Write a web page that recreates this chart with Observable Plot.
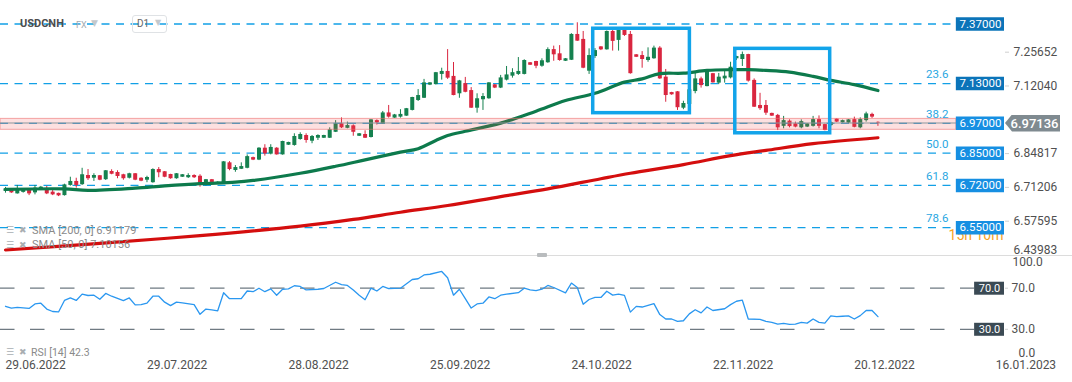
<!DOCTYPE html>
<html><head><meta charset="utf-8">
<script src="https://cdn.jsdelivr.net/npm/d3@7"></script>
<script src="https://cdn.jsdelivr.net/npm/@observablehq/plot@0.6"></script>
<style>
body{margin:0;background:#fff;font-family:Roboto,sans-serif;}
#wrap{position:relative;width:1072px;height:382px;overflow:hidden;background:#fff;}
#price,#rsi{position:absolute;left:0;}
#price{top:0;} #rsi{top:256px;}
.ov{position:absolute;white-space:nowrap;line-height:14px;}
.ic{color:#a9aeb2;font-family:"DejaVu Sans",sans-serif;font-size:9px;}
</style></head><body>
<div id="wrap">
  <div id="price"></div>
  <div id="rsi"></div>
  <div class="ov" style="left:0;top:255px;width:1072px;height:1px;background:#dcdcdc;"></div>
  <div class="ov" style="left:537px;top:253px;width:10px;height:4px;background:#b9bcbe;border-radius:1px;"></div>
  <div class="ov" style="left:20px;top:17px;font-size:11px;font-weight:bold;color:#4d4d4d;">USDCNH</div>
  <div class="ov" style="left:76px;top:18px;font-size:9px;color:#a3aab0;">FX</div>
  <div class="ov ic" style="left:91px;top:16px;font-size:9px;color:#c4c8cc;">▼</div>
  <div class="ov" style="left:132px;top:15px;width:33px;height:16px;border:1px solid #dfe2e5;border-radius:3px;"></div>
  <div class="ov" style="left:137px;top:17px;font-size:10px;color:#666;">D1</div>
  <div class="ov ic" style="left:155px;top:16px;font-size:8px;color:#c4c8cc;">▼</div>
  <div class="ov ic" style="left:6px;top:223px;">☰</div><div class="ov ic" style="left:19px;top:223px;">✖</div>
  <div class="ov" id="leg200" style="left:32px;top:224px;font-size:11px;color:#8a8a8a;"></div>
  <div class="ov ic" style="left:6px;top:238px;">☰</div><div class="ov ic" style="left:19px;top:238px;">✖</div>
  <div class="ov" id="leg50" style="left:32px;top:238px;font-size:11px;color:#8a8a8a;"></div>
  <div class="ov ic" style="left:6px;top:345px;">☰</div><div class="ov ic" style="left:19px;top:345px;">✖</div>
  <div class="ov" id="legrsi" style="left:31px;top:346px;font-size:10.5px;color:#8a8a8a;"></div>
  <div class="ov" id="lastlab" style="left:1005px;width:55px;height:17px;line-height:17px;background:#7f8a90;color:#fff;font-size:13px;font-weight:500;text-align:center;padding-left:4px;box-sizing:border-box;clip-path:polygon(7px 0,100% 0,100% 100%,7px 100%,0 50%);"></div>
</div>
<script>
// ---------- DATA ----------
const open  = [6.696,6.702,6.686,6.692,6.700,6.690,6.704,6.702,6.693,6.688,6.679,6.720,6.736,6.723,6.760,6.749,6.759,6.743,6.776,6.772,6.763,6.749,6.767,6.749,6.741,6.731,6.784,6.775,6.764,6.747,6.753,6.751,6.760,6.757,6.720,6.743,6.727,6.728,6.811,6.780,6.785,6.789,6.832,6.822,6.870,6.846,6.870,6.843,6.882,6.881,6.905,6.921,6.898,6.910,6.910,6.910,6.934,6.968,6.950,6.960,6.918,6.925,6.913,6.981,6.968,7.012,6.991,6.995,6.999,7.022,7.062,7.071,7.124,7.126,7.167,7.179,7.159,7.089,7.130,7.102,7.031,7.065,7.069,7.125,7.112,7.144,7.160,7.167,7.167,7.214,7.219,7.200,7.214,7.267,7.250,7.220,7.224,7.328,7.308,7.180,7.239,7.278,7.266,7.340,7.304,7.344,7.328,7.246,7.243,7.223,7.230,7.273,7.156,7.094,7.097,7.031,7.046,7.098,7.149,7.118,7.170,7.132,7.149,7.153,7.230,7.227,7.247,7.143,7.042,7.042,7.010,7.002,6.958,6.979,6.968,6.952,6.955,6.958,6.985,6.965,6.961,6.987,6.972,6.971,6.985,6.952,6.981,7.006,6.974];
const high  = [6.712,6.706,6.720,6.704,6.706,6.720,6.716,6.716,6.702,6.689,6.725,6.753,6.749,6.789,6.784,6.767,6.760,6.780,6.783,6.779,6.765,6.769,6.768,6.751,6.757,6.787,6.792,6.776,6.765,6.768,6.764,6.767,6.763,6.763,6.744,6.744,6.735,6.816,6.816,6.800,6.811,6.843,6.834,6.872,6.884,6.884,6.872,6.898,6.894,6.928,6.932,6.928,6.921,6.924,6.922,6.952,6.981,6.992,6.975,6.964,6.929,6.940,6.985,6.984,7.018,7.042,7.006,7.025,7.030,7.075,7.106,7.147,7.134,7.175,7.192,7.267,7.215,7.143,7.155,7.114,7.089,7.090,7.134,7.126,7.163,7.199,7.190,7.235,7.226,7.215,7.220,7.230,7.274,7.281,7.283,7.231,7.331,7.375,7.340,7.270,7.271,7.279,7.342,7.344,7.346,7.346,7.340,7.247,7.259,7.274,7.281,7.279,7.187,7.095,7.098,7.059,7.106,7.176,7.156,7.180,7.171,7.171,7.180,7.216,7.240,7.257,7.248,7.149,7.091,7.062,7.011,7.006,6.998,6.984,6.975,6.984,6.969,6.998,7.000,6.967,6.977,6.988,6.983,6.985,6.995,6.992,7.015,7.011,6.976];
const low   = [6.689,6.688,6.685,6.689,6.679,6.682,6.700,6.683,6.679,6.675,6.677,6.717,6.709,6.720,6.740,6.736,6.739,6.740,6.763,6.747,6.741,6.746,6.739,6.735,6.731,6.729,6.751,6.751,6.745,6.745,6.752,6.748,6.748,6.713,6.718,6.730,6.725,6.726,6.779,6.773,6.784,6.787,6.820,6.820,6.838,6.843,6.842,6.842,6.881,6.878,6.902,6.890,6.888,6.901,6.909,6.909,6.933,6.949,6.948,6.918,6.917,6.909,6.911,6.963,6.967,6.991,6.990,6.991,6.998,7.020,7.058,7.070,7.122,7.125,7.144,7.147,7.081,7.071,7.093,7.030,7.011,7.022,7.067,7.110,7.110,7.141,7.152,7.163,7.165,7.203,7.190,7.196,7.212,7.220,7.220,7.219,7.223,7.300,7.190,7.167,7.231,7.263,7.265,7.261,7.261,7.320,7.168,7.235,7.192,7.216,7.228,7.147,7.055,7.083,7.022,7.025,7.045,7.089,7.112,7.117,7.132,7.126,7.132,7.149,7.223,7.199,7.136,7.034,7.022,7.002,6.998,6.941,6.948,6.952,6.952,6.948,6.953,6.955,6.948,6.940,6.957,6.973,6.971,6.969,6.952,6.948,6.975,6.990,6.958];
const close = [6.706,6.690,6.702,6.701,6.686,6.709,6.713,6.686,6.682,6.678,6.722,6.736,6.720,6.763,6.747,6.760,6.741,6.779,6.765,6.756,6.747,6.767,6.741,6.737,6.752,6.784,6.771,6.753,6.747,6.767,6.763,6.760,6.751,6.727,6.743,6.732,6.733,6.815,6.784,6.792,6.796,6.836,6.822,6.870,6.847,6.873,6.843,6.897,6.893,6.917,6.925,6.901,6.917,6.921,6.921,6.944,6.967,6.952,6.961,6.934,6.928,6.910,6.984,6.972,7.012,6.995,7.004,7.006,7.029,7.074,7.082,7.133,7.133,7.174,7.179,7.152,7.082,7.141,7.095,7.031,7.069,7.078,7.133,7.112,7.153,7.165,7.174,7.179,7.223,7.204,7.200,7.222,7.267,7.246,7.223,7.230,7.328,7.301,7.192,7.243,7.263,7.266,7.340,7.300,7.344,7.324,7.170,7.236,7.227,7.236,7.273,7.149,7.082,7.085,7.033,7.050,7.105,7.149,7.122,7.179,7.133,7.156,7.160,7.196,7.239,7.247,7.140,7.035,7.029,7.011,6.999,6.952,6.981,6.957,6.955,6.977,6.968,6.985,6.958,6.941,6.973,6.975,6.981,6.984,6.954,6.985,7.008,6.995,6.97136];

const sma50Idx = [0,10,14,22,27,33,39,42,50,56,61,67,70,73,75,78,84,90,95,100,105,108,111,115,119,123,126,129,133,137,140,144,148];
const sma50    = [6.704,6.706,6.700,6.709,6.718,6.727,6.733,6.740,6.769,6.797,6.823,6.854,6.868,6.901,6.921,6.938,6.971,7.019,7.062,7.091,7.136,7.149,7.170,7.172,7.183,7.186,7.186,7.183,7.176,7.159,7.143,7.126,7.102];
const sma200Idx = [0,16,33,50,59,67,75,84,92,101,106,115,123,129,137,148];
const sma200    = [6.460,6.487,6.518,6.556,6.583,6.612,6.639,6.675,6.706,6.747,6.769,6.804,6.840,6.861,6.888,6.912];

const rsiIdx = [0,1,2,4,5,6,7,8,9,10,11,12,13,14,15,16,17,18,20,21,22,23,24,25,26,27,28,29,30,32,33,34,35,36,37,38,39,40,41,42,43,44,45,46,47,48,49,50,51,53,54,56,57,58,59,60,61,62,63,64,65,67,69,70,71,72,74,75,76,77,78,79,80,81,82,83,84,85,87,88,89,90,91,92,93,95,96,97,98,99,100,101,102,103,104,105,106,107,108,110,111,112,113,114,115,116,117,118,119,120,122,123,124,125,126,128,129,130,131,132,133,134,135,136,137,138,139,140,141,142,143,144,145,146,147,148];
const rsi    = [52.4,50.7,51.4,50.3,54.7,55.4,49.7,47.3,46.9,58.1,60.5,58.1,64.2,62.9,63.2,59.2,64.9,62.2,58.0,60.5,53.7,54.1,55.4,62.2,62.2,56.4,53.0,56.4,55.8,54.1,44.6,49.7,49.0,48.0,65.6,59.8,59.8,59.8,67.3,66.6,70.0,66.6,69.3,63.2,69.0,69.3,72.4,71.7,68.3,69.0,69.7,75.8,73.4,72.7,68.3,63.2,58.8,70.0,67.3,71.7,69.7,70.0,78.5,79.2,82.9,83.6,86.3,80.2,63.2,69.0,59.8,50.7,54.7,55.4,61.5,59.8,63.2,64.2,65.6,70.0,68.3,67.7,69.0,72.7,70.7,65.5,75.0,70.7,54.3,59.0,61.0,61.0,67.0,63.3,64.3,63.0,46.7,52.3,51.7,55.0,44.3,40.0,40.0,37.7,38.3,45.0,49.0,46.0,51.7,48.3,50.0,54.0,57.3,58.3,40.0,39.7,37.7,36.7,35.0,35.7,34.7,35.0,36.7,36.0,40.0,36.7,36.0,43.0,42.3,42.7,43.0,40.0,43.3,48.3,48.3,42.3];

const dateTickIdx = [0,24,48,72,96,120,144,168];
const dateLabels  = ["29.06.2022","29.07.2022","28.08.2022","25.09.2022","24.10.2022","22.11.2022","20.12.2022","16.01.2023"];

const levels      = [7.37,7.13,6.97,6.85,6.72,6.55];
const levelLabels = ["7.37000","7.13000","6.97000","6.85000","6.72000","6.55000"];
const levelColors = ["#0b74b9","#0b74b9","#168fe2","#168fe2","#168fe2","#168fe2"];
const fibLevels   = [7.13,6.97,6.85,6.72,6.55];
const fibLabels   = ["23.6","38.2","50.0","61.8","78.6"];
const priceTicks  = [7.25652,7.12040,6.84817,6.71206,6.57595];
const priceTickLow = [6.43983];
const lastPrice   = 6.97136;
const zone        = [6.944,6.988];
const boxX1 = [99.7,123.8], boxX2 = [116.1,139.9], boxY1 = [7.011,6.930], boxY2 = [7.351,7.270];
const rsiLevels = [70,30];
const sma200Last = 6.91179, sma50Last = 7.10156, rsiLast = 42.3;

// ---------- LAYOUT CONSTANTS (scale extents) ----------
const xDomain = [-0.848, 169.47];
const levelEnd = 161.3;     // where level lines stop and their labels start (bar index)
const rsiBoxStart = 164.4;

const GREEN = "#15814f", RED = "#d9263f";
const candles = open.map((o,i)=>({i, o, h: high[i], l: low[i], c: close[i]}));
const col = d => d.c >= d.o ? GREEN : RED;

const price = Plot.plot({
  width: 1072, height: 256,
  marginLeft: 0, marginRight: 68, marginTop: 0, marginBottom: 0,
  style: {fontFamily: "Roboto, sans-serif", background: "transparent", overflow: "visible"},
  x: {domain: xDomain, axis: null},
  y: {domain: [6.4338, 7.4647]},
  marks: [
    Plot.ruleY(levels, {y: d=>d, x1: xDomain[0], x2: levelEnd, stroke: "#12a0e6", strokeWidth: 1.3, strokeDasharray: "8,6.5"}),
    Plot.ruleX(candles, {x: "i", y1: "l", y2: "h", stroke: col, strokeWidth: 1}),
    Plot.ruleX(candles, {x: "i", y1: "o", y2: "c", stroke: col, strokeWidth: 4}),
    Plot.line(sma200Idx, {x: d=>d, y: (d,i)=>sma200[i], stroke: "#d40e0e", strokeWidth: 3.2, curve: "catmull-rom"}),
    Plot.line(sma50Idx, {x: d=>d, y: (d,i)=>sma50[i], stroke: "#0d7a4c", strokeWidth: 3.2, curve: "catmull-rom"}),
    Plot.rect([zone], {x1: xDomain[0], x2: levelEnd, y1: d=>d[0], y2: d=>d[1], fill: "#f54848", fillOpacity: 0.17, stroke: "#ec6f6f", strokeOpacity: 0.6, strokeWidth: 1}),
    Plot.ruleY([lastPrice], {y: d=>d, stroke: "#8d969b", strokeWidth: 1}),
    Plot.rect(boxX1, {x1: d=>d, x2: (d,i)=>boxX2[i], y1: (d,i)=>boxY1[i], y2: (d,i)=>boxY2[i], fill: "none", stroke: "#12a4ea", strokeWidth: 3.5}),
    Plot.text(fibLevels, {y: d=>d, frameAnchor: "right", dx: -56, dy: -9, textAnchor: "end", text: (d,i)=>fibLabels[i], fill: "#2aa7e2", fontSize: 11.5}),
    Plot.text(["15h 10m"], {frameAnchor: "bottom-right", dx: -1, dy: -17, textAnchor: "end", text: d=>d, fill: "#f6a21e", fontSize: 14}),
    Plot.ruleY(levels, {y: d=>d, x1: levelEnd, x2: xDomain[1], stroke: (d,i)=>levelColors[i], strokeWidth: 13.5}),
    Plot.text(levels, {y: d=>d, frameAnchor: "right", dx: -24, textAnchor: "middle", text: (d,i)=>levelLabels[i], fill: "white", fontSize: 11.5}),
    Plot.axisY(priceTicks, {anchor: "right", tickSize: 4, tickPadding: 5, tickFormat: d=>d.toFixed(5), fontSize: 12, fill: "#505050", stroke: "#cfcfcf", label: null}),
    Plot.axisY(priceTickLow, {anchor: "right", tickSize: 0, tickPadding: 9, dy: -5, tickFormat: d=>d.toFixed(5), fontSize: 12, fill: "#505050", label: null})
  ]
});
document.getElementById("price").append(price);

const rsiChart = Plot.plot({
  width: 1072, height: 126,
  marginLeft: 0, marginRight: 68, marginTop: 0.9, marginBottom: 22.4,
  style: {fontFamily: "Roboto, sans-serif", background: "transparent"},
  x: {domain: xDomain, axis: null},
  y: {domain: [0, 100]},
  marks: [
    Plot.ruleY(rsiLevels, {y: d=>d, x1: xDomain[0], x2: rsiBoxStart, stroke: "#6f7a82", strokeWidth: 1.2, strokeDasharray: "14.5,15.5"}),
    Plot.line(rsiIdx, {x: d=>d, y: (d,i)=>rsi[i], stroke: "#2a97f0", strokeWidth: 1.3}),
    Plot.ruleY(rsiLevels, {y: d=>d, x1: rsiBoxStart, x2: xDomain[1], stroke: "#3b4a54", strokeWidth: 13}),
    Plot.text(rsiLevels, {y: d=>d, frameAnchor: "right", dx: -15, textAnchor: "middle", text: d=>d.toFixed(1), fill: "white", fontSize: 11}),
    Plot.axisY(rsiLevels, {anchor: "right", tickSize: 3, tickPadding: 4, tickFormat: d=>d.toFixed(1), fontSize: 12, fill: "#505050", stroke: "#cfcfcf", label: null}),
    Plot.axisY([100], {anchor: "right", tickSize: 0, tickPadding: 8, dy: 5, tickFormat: d=>d.toFixed(1), fontSize: 12, fill: "#505050", label: null}),
    Plot.axisY([0], {anchor: "right", tickSize: 0, tickPadding: 14, dy: -6.5, tickFormat: d=>d.toFixed(1), fontSize: 12, fill: "#505050", label: null}),
    Plot.text(dateTickIdx, {x: d=>d, frameAnchor: "bottom", dy: 9, textAnchor: "start", text: (d,i)=>dateLabels[i], fill: "#505050", fontSize: 12})
  ]
});
document.getElementById("rsi").append(rsiChart);

// overlay texts
document.getElementById("leg200").textContent = `SMA [200, 0] ${sma200Last.toFixed(5)}`;
document.getElementById("leg50").textContent = `SMA [50, 0] ${sma50Last.toFixed(5)}`;
document.getElementById("legrsi").textContent = `RSI [14] ${rsiLast.toFixed(1)}`;
const lab = document.getElementById("lastlab");
lab.textContent = lastPrice.toFixed(5);
lab.style.top = (price.scale("y").apply(lastPrice) - 8) + "px";
</script>
</body></html>
